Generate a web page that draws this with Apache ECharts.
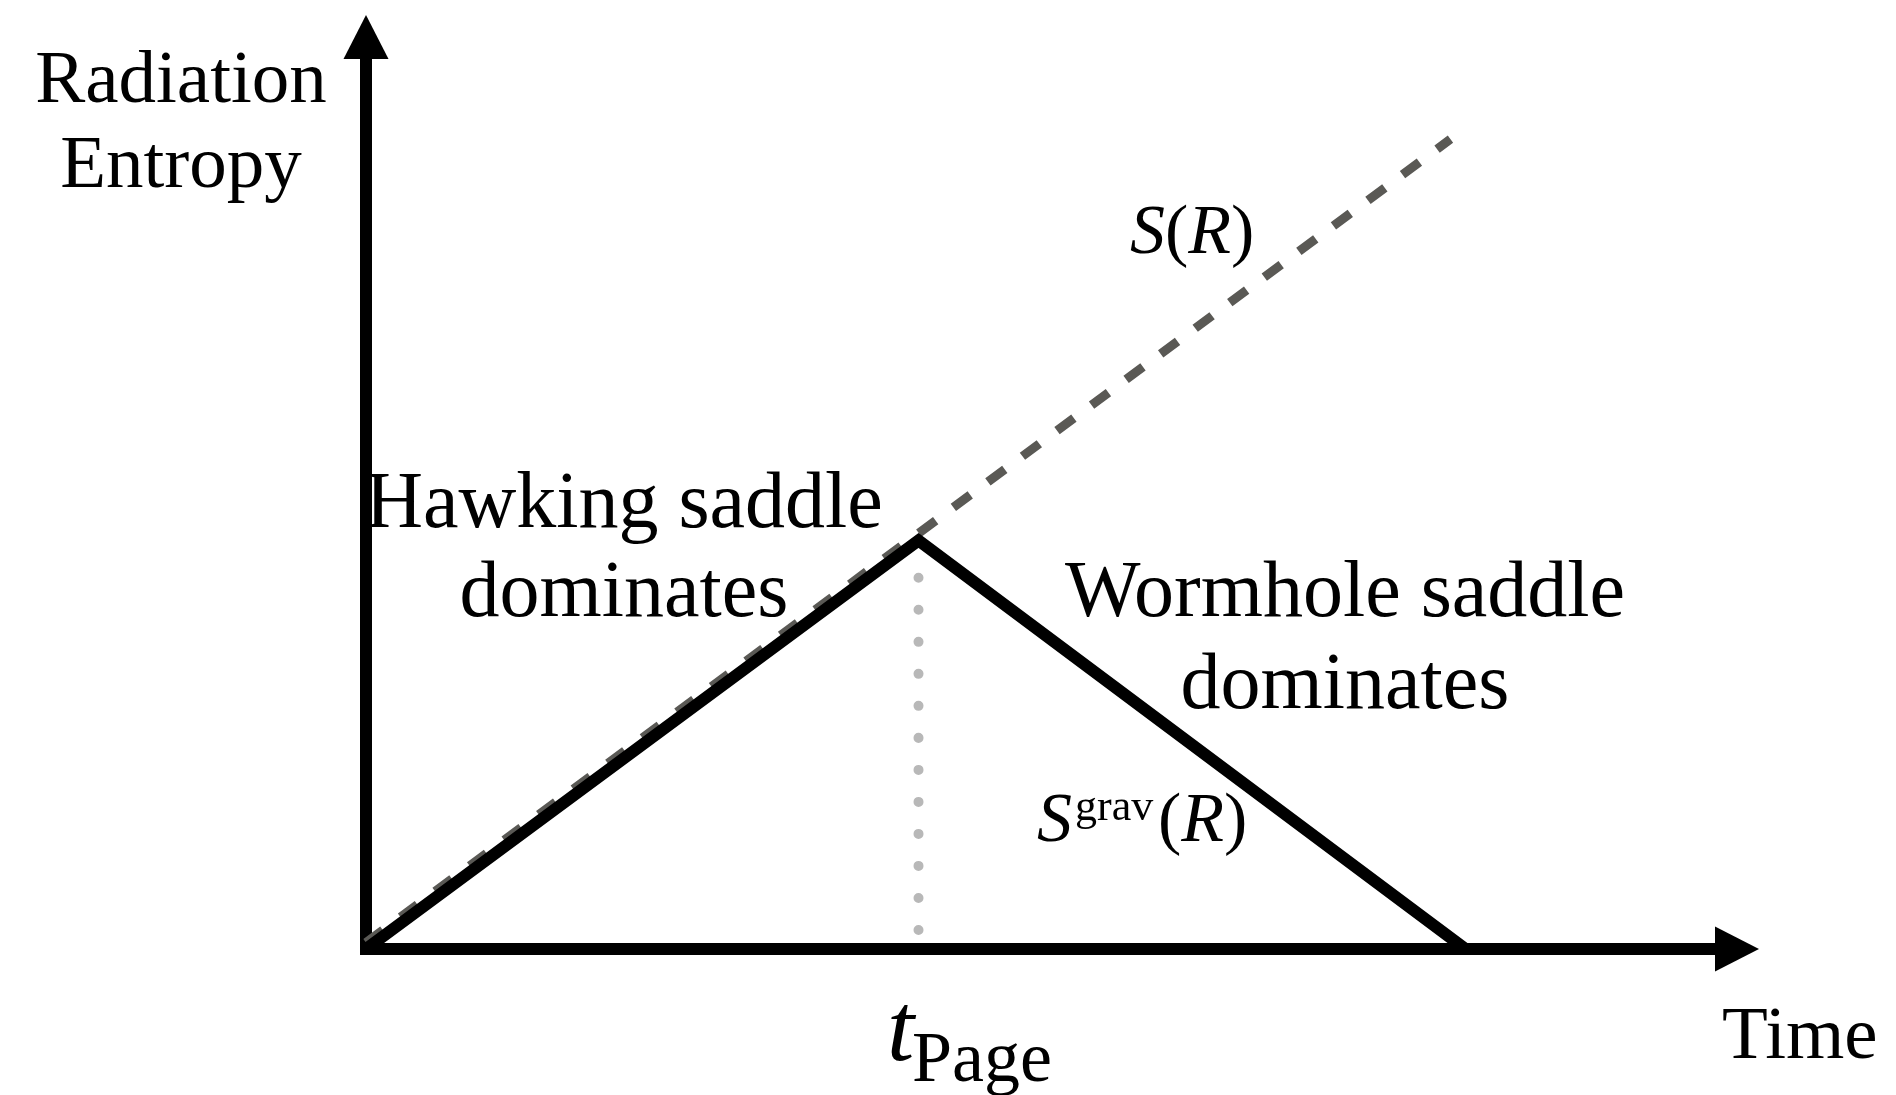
<!DOCTYPE html>
<html>
<head>
<meta charset="utf-8">
<title>Radiation entropy – Page curve</title>
<script src="https://cdn.jsdelivr.net/npm/echarts@6/dist/echarts.min.js"></script>
<style>
  html, body { margin: 0; padding: 0; background: #fff; }
  #chart { width: 1896px; height: 1095px; }
</style>
</head>
<body>
<div id="chart"></div>
<script>
///////////////////////////////////////////////////
// Used data (arbitrary units, axes run 0..100)
///////////////////////////////////////////////////

// Axis ranges
const xRange = [0, 100];
const yRange = [0, 100];

// Naive radiation entropy S(R), keeps growing (dashed)
const naiveEntropy = [
  [0, 0.7],
  [79.1, 88.8],
];

// Page curve S^grav(R): rises, peaks at the Page time, falls back (solid)
const pageCurve = [
  [0, 0],
  [40.3, 44.8],
  [80.2, 0],
];

// Page time marker (dotted vertical)
const pageTimeMarker = [
  [40.3, 40.7],
  [40.3, 1.8],
];

///////////////////////////////////////////////////
// Chart
///////////////////////////////////////////////////
const serif = "'Liberation Serif', 'Times New Roman', serif";

var div = document.getElementById('chart');
var myChart = echarts.init(div, null, { renderer: 'canvas' });

// shared axis look: thick black line with a triangle head, nothing else
const axisLook = {
  type: 'value',
  axisLine: {
    show: true,
    symbol: ['none', 'triangle'],
    symbolSize: [45, 44],
    lineStyle: { color: '#000', width: 12, cap: 'square' },
  },
  axisTick: { show: false },
  axisLabel: { show: false },
  splitLine: { show: false },
};

// helper for the free-standing text pieces
function label(text, x, y, font) {
  return {
    type: 'text',
    x: x,
    y: y,
    silent: true,
    style: {
      text: text,
      fill: '#000',
      font: font + ' ' + serif,
      align: 'left',
      verticalAlign: 'middle',
    },
  };
}

// two-line centred note
function note(text, x, y, size, lineHeight) {
  return {
    type: 'text',
    x: x,
    y: y,
    silent: true,
    style: {
      text: text,
      fill: '#000',
      font: size + 'px ' + serif,
      lineHeight: lineHeight,
      align: 'center',
      verticalAlign: 'middle',
    },
  };
}

// "(R)" with an italic R, optionally preceded by an italic S
function mathText(text, x, y) {
  return {
    type: 'text',
    x: x,
    y: y,
    silent: true,
    style: {
      text: text,
      verticalAlign: 'middle',
      rich: {
        i: { font: 'italic 70px ' + serif, fill: '#000' },
        n: { font: '70px ' + serif, fill: '#000' },
      },
    },
  };
}

const option = {
  backgroundColor: '#fff',
  animation: false,
  grid: {
    left: 366,
    right: 159,
    top: 37,
    bottom: 146,
    containLabel: false,
    outerBoundsMode: 'none',
  },
  xAxis: Object.assign({}, axisLook, { min: xRange[0], max: xRange[1] }),
  yAxis: Object.assign({}, axisLook, { min: yRange[0], max: yRange[1] }),
  series: [
    {
      name: 'S(R)',
      type: 'line',
      data: naiveEntropy,
      symbol: 'none',
      clip: false,
      z: 1,
      lineStyle: { color: '#5a5955', width: 9, type: [21, 22], cap: 'butt' },
    },
    {
      name: 'Page time',
      type: 'line',
      data: pageTimeMarker,
      symbol: 'none',
      clip: false,
      z: 1,
      lineStyle: { color: '#b8b8b8', width: 10, type: [0.01, 32], cap: 'round' },
    },
    {
      name: 'Sgrav(R)',
      type: 'line',
      data: pageCurve,
      symbol: 'none',
      clip: false,
      z: 3,
      lineStyle: { color: '#000', width: 12, join: 'miter' },
    },
  ],
  graphic: [
    // axis titles
    note('Radiation\nEntropy', 181, 125, 75, 85),
    label('Time', 1722, 1038, '75px'),

    // region notes
    note('Hawking saddle\ndominates', 624, 550, 80, 89),
    note('Wormhole saddle\ndominates', 1345, 641, 80, 92),

    // S(R)
    mathText('{i|S}{n|(}{i|R}{n|)}', 1130, 235),

    // S^grav(R)
    label('S', 1037, 823, 'italic 70px'),
    label('grav', 1075, 808, '44px'),
    mathText('{n|(}{i|R}{n|)}', 1158, 823),

    // t_Page
    label('t', 887, 1034, 'italic 98px'),
    label('Page', 912, 1062, '72px'),
  ],
};

myChart.setOption(option);
</script>
</body>
</html>
